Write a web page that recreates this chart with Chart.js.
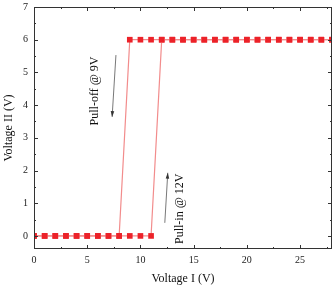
<!DOCTYPE html>
<html>
<head>
<meta charset="utf-8">
<script src="https://cdn.jsdelivr.net/npm/chart.js@4/dist/chart.umd.min.js"></script>
<style>
    html, body { margin: 0; padding: 0; background: #fff; }
    #wrap { width: 335px; height: 286px; }
</style>
</head>
<body>
<div id="wrap"><canvas id="hyst"></canvas></div>
<script>
// sweep up: 0 -> 28 V
const upX = [0, 1, 2, 3, 4, 5, 6, 7, 8, 9, 10, 11, 12, 13, 14, 15, 16, 17, 18, 19, 20, 21, 22, 23, 24, 25, 26, 27, 28];
const upY = [0, 0, 0, 0, 0, 0, 0, 0, 0, 0, 0, 0, 6, 6, 6, 6, 6, 6, 6, 6, 6, 6, 6, 6, 6, 6, 6, 6, 6];
// sweep down: 28 -> 0 V
const downX = [28, 27, 26, 25, 24, 23, 22, 21, 20, 19, 18, 17, 16, 15, 14, 13, 12, 11, 10, 9, 8, 7, 6, 5, 4, 3, 2, 1, 0];
const downY = [6, 6, 6, 6, 6, 6, 6, 6, 6, 6, 6, 6, 6, 6, 6, 6, 6, 6, 6, 6, 0, 0, 0, 0, 0, 0, 0, 0, 0];

const xTicks = [0, 5, 10, 15, 20, 25];
const yTicks = [0, 1, 2, 3, 4, 5, 6, 7];

const notes = [
    { text: 'Pull-off @ 9V', x: 5.75, y: 4.43, from: [7.7, 5.53], to: [7.34, 3.64] },
    { text: 'Pull-in @ 12V', x: 13.7, y: 0.83, from: [12.29, 0.4], to: [12.57, 1.93] }
];

const serif = '"Liberation Serif", "DejaVu Serif", serif';

function toPoints(xs, ys) {
    return xs.map((x, i) => ({ x: x, y: ys[i] }));
}

// frame with inward ticks, like Origin
const framePlugin = {
    id: 'frame',
    afterDatasetsDraw(chart) {
        const { ctx, chartArea: a, scales } = chart;
        const xs = scales.x, ys = scales.y;
        ctx.save();
        ctx.strokeStyle = '#333';
        ctx.lineWidth = 1;
        ctx.strokeRect(a.left + 0.5, a.top + 0.5, a.right - a.left - 1, a.bottom - a.top - 1);
        ctx.beginPath();
        for (let v = 0; v <= 28; v += 2.5) {
            const px = Math.round(xs.getPixelForValue(v)) + 0.5;
            const len = (v % 5 === 0) ? 4 : 2;
            ctx.moveTo(px, a.bottom); ctx.lineTo(px, a.bottom - len);
            ctx.moveTo(px, a.top); ctx.lineTo(px, a.top + len);
        }
        for (let v = 0; v <= 7; v += 0.5) {
            const py = Math.round(ys.getPixelForValue(v)) + 0.5;
            const len = (v % 1 === 0) ? 4 : 2;
            ctx.moveTo(a.left, py); ctx.lineTo(a.left + len, py);
            ctx.moveTo(a.right, py); ctx.lineTo(a.right - len, py);
        }
        ctx.stroke();
        ctx.restore();
    }
};

const notePlugin = {
    id: 'notes',
    afterDatasetsDraw(chart) {
        const { ctx, scales } = chart;
        const xs = scales.x, ys = scales.y;
        ctx.save();
        notes.forEach(n => {
            ctx.save();
            ctx.translate(xs.getPixelForValue(n.x), ys.getPixelForValue(n.y));
            ctx.rotate(-Math.PI / 2);
            ctx.fillStyle = '#111';
            ctx.font = '12px ' + serif;
            ctx.textAlign = 'center';
            ctx.textBaseline = 'middle';
            ctx.fillText(n.text, 0, 0);
            ctx.restore();

            const x1 = xs.getPixelForValue(n.from[0]), y1 = ys.getPixelForValue(n.from[1]);
            const x2 = xs.getPixelForValue(n.to[0]), y2 = ys.getPixelForValue(n.to[1]);
            const ang = Math.atan2(y2 - y1, x2 - x1);
            ctx.strokeStyle = '#555';
            ctx.fillStyle = '#333';
            ctx.lineWidth = 0.8;
            ctx.beginPath();
            ctx.moveTo(x1, y1);
            ctx.lineTo(x2, y2);
            ctx.stroke();
            ctx.beginPath();
            ctx.moveTo(x2, y2);
            ctx.lineTo(x2 - 6 * Math.cos(ang - 0.3), y2 - 6 * Math.sin(ang - 0.3));
            ctx.lineTo(x2 - 6 * Math.cos(ang + 0.3), y2 - 6 * Math.sin(ang + 0.3));
            ctx.closePath();
            ctx.fill();
        });
        ctx.restore();
    }
};

const seriesStyle = {
    showLine: true,
    borderColor: '#f28c8c',
    borderWidth: 1.2,
    pointStyle: 'rect',
    pointRadius: 4,
    pointBorderWidth: 0,
    pointBackgroundColor: '#ec2229',
    pointHoverRadius: 4,
    tension: 0
};

new Chart(document.getElementById('hyst'), {
    type: 'scatter',
    data: {
        datasets: [
            Object.assign({ label: 'Sweep up', data: toPoints(upX, upY) }, seriesStyle),
            Object.assign({ label: 'Sweep down', data: toPoints(downX, downY) }, seriesStyle)
        ]
    },
    options: {
        responsive: true,
        maintainAspectRatio: false,
        animation: false,
        layout: { autoPadding: false, padding: { left: 2, right: 3, top: 7, bottom: 0 } },
        plugins: {
            legend: { display: false },
            tooltip: { enabled: false }
        },
        scales: {
            x: {
                type: 'linear',
                min: 0,
                max: 28,
                grid: { display: false, drawTicks: false },
                border: { display: false },
                afterBuildTicks: s => { s.ticks = xTicks.map(v => ({ value: v })); },
                afterFit: s => { s.height = 37; s.paddingLeft = 0; s.paddingRight = 0; },
                ticks: { padding: 5, color: '#222', font: { family: serif, size: 10 } },
                title: {
                    display: true,
                    text: 'Voltage I (V)',
                    color: '#111',
                    padding: { top: 2, bottom: 0 },
                    font: { family: serif, size: 12 }
                }
            },
            y: {
                type: 'linear',
                min: -0.4,
                max: 7,
                grid: { display: false, drawTicks: false },
                border: { display: false },
                afterBuildTicks: s => { s.ticks = yTicks.map(v => ({ value: v })); },
                afterFit: s => { s.width = 32; s.paddingTop = 0; s.paddingBottom = 0; },
                ticks: { padding: 6, color: '#222', font: { family: serif, size: 10 } },
                title: {
                    display: true,
                    text: 'Voltage II (V)',
                    color: '#111',
                    padding: { top: 0, bottom: 2 },
                    font: { family: serif, size: 12 }
                }
            }
        }
    },
    plugins: [framePlugin, notePlugin]
});
</script>
</body>
</html>
